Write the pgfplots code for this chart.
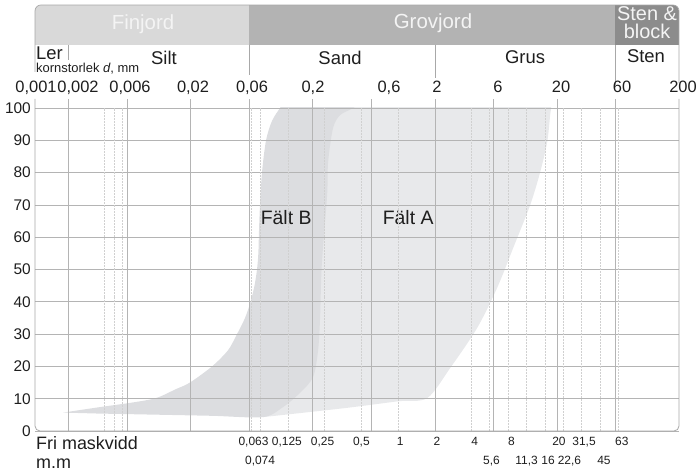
\documentclass[border=0pt]{standalone}
\usepackage{fontspec}
\setmainfont{Liberation Sans}
\usepackage{pgfplots}
\pgfplotsset{compat=1.18}

\definecolor{finc}{HTML}{D9D9D9}
\definecolor{grovc}{HTML}{B3B3B3}
\definecolor{stenc}{HTML}{8C8C8C}
\definecolor{gridc}{HTML}{B4B4B4}
\definecolor{minorc}{HTML}{D0D0D0}
\definecolor{framec}{HTML}{A8A8A8}
\definecolor{faltA}{HTML}{E8E9EB}
\definecolor{faltB}{HTML}{DCDDE0}
\definecolor{txt}{HTML}{1E1E1E}
\definecolor{headtxt}{HTML}{F4F4F4}

\newcommand{\fs}[1]{\fontsize{#1}{#1}\selectfont}

\begin{document}
\begin{tikzpicture}

% picture area in reference pixels
\begin{scope}[x=1bp,y=-1bp,shift={(-35bp,431bp)}]
  \path[use as bounding box] (0,0) rectangle (698,472);
\end{scope}

\begin{axis}[
    at={(0,0)}, anchor=south west,
    scale only axis, width=644bp, height=323bp,
    xmode=log, log basis x=10,
    xmin=0.00106, xmax=200, ymin=0, ymax=100,
    axis line style={draw=none},
    tick style={draw=none},
    xtick={0.002,0.006,0.02,0.06,0.2,0.6,2,6,20,60},
    xticklabels={},
    ytick={0,10,...,100},
    yticklabels={0,10,20,30,40,50,60,70,80,90,100},
    yticklabel style={font=\fs{15.5}, text=txt, inner sep=0pt, xshift=-4bp},
    xmajorgrids, ymajorgrids,
    major grid style={gridc, line width=0.7pt},
    extra x ticks={0.0039,0.0047,0.0055,0.063,0.074,0.125,0.25,0.5,1,4,5.6,8,11.3,16,22.6,31.5,45,63},
    extra x tick labels={},
    extra x tick style={grid=major, major grid style={minorc, line width=0.5pt, dash pattern=on 2pt off 1pt}},
    axis on top,
    clip mode=individual,
  ]

  % Fält A
  \addplot[draw=none, fill=faltA, smooth, tension=0.5] coordinates {
    (0.0782,4.3) (0.368,7.1) (1.0,9.2) (1.73,10.2)
    (2.67,19.5) (4.44,31.9) (6.47,44.3) (8.77,56.7) (12.08,70)
    (14.59,80.2) (16.65,89.5) (17.6,97.8) (18.0,101) (17.5,104)
    (1,104) (0.3,104) (0.2,80) (0.15,50) (0.12,20) (0.09,8)
  } -- cycle;

  % Fält B
  \addplot[draw=none, fill=faltB, smooth, tension=0.5] coordinates {
    (0.0018,5.7) (0.0036,7.4) (0.0066,8.8) (0.0104,10.2) (0.0150,12.9)
    (0.0197,15) (0.0299,20) (0.0404,25) (0.0479,30) (0.0557,35)
    (0.0618,40) (0.0666,45) (0.0698,50) (0.0716,55) (0.0725,62)
    (0.0739,70) (0.0767,80) (0.0828,90) (0.0927,96) (0.108,100)
    (0.125,102.5) (0.5,102.5) (0.428,100) (0.335,97.8) (0.293,93.8)
    (0.267,83.3) (0.262,73) (0.237,51.5) (0.2296,35.3) (0.221,25)
    (0.201,16.7) (0.157,11.8) (0.114,7.4) (0.0782,4.3) (0.03,4.7)
    (0.009,5.1) (0.0035,5.4)
  } -- cycle;

  \node[anchor=base west, font=\fs{19.5}, text=txt] at (axis cs:0.0702,64) {Fält B};
  \node[anchor=base west, font=\fs{19.5}, text=txt] at (axis cs:0.701,64) {Fält A};

  % major lines reach above the top
  \pgfplotsinvokeforeach{0.002,0.006,0.02,0.06,0.2,0.6,2,6,20,60}{
    \draw[gridc, line width=0.7pt] (axis cs:#1,100) -- ++(0pt,9bp);
  }

  % sieve sizes, fri maskvidd
  \node[anchor=base, font=\fs{12}, text=txt, yshift=-14bp, xshift=2bp] at (axis cs:0.063,0) {0,063};
  \node[anchor=base, font=\fs{12}, text=txt, yshift=-14bp, xshift=-1bp] at (axis cs:0.125,0) {0,125};
  \node[anchor=base, font=\fs{12}, text=txt, yshift=-14bp, xshift=-2bp] at (axis cs:0.25,0) {0,25};
  \node[anchor=base, font=\fs{12}, text=txt, yshift=-14bp] at (axis cs:0.5,0) {0,5};
  \node[anchor=base, font=\fs{12}, text=txt, yshift=-14bp, xshift=2bp] at (axis cs:1,0) {1};
  \node[anchor=base, font=\fs{12}, text=txt, yshift=-14bp, xshift=2bp] at (axis cs:2,0) {2};
  \node[anchor=base, font=\fs{12}, text=txt, yshift=-14bp, xshift=3bp] at (axis cs:4,0) {4};
  \node[anchor=base, font=\fs{12}, text=txt, yshift=-14bp, xshift=3bp] at (axis cs:8,0) {8};
  \node[anchor=base, font=\fs{12}, text=txt, yshift=-14bp, xshift=2bp] at (axis cs:20,0) {20};
  \node[anchor=base, font=\fs{12}, text=txt, yshift=-14bp, xshift=3bp] at (axis cs:31.5,0) {31,5};
  \node[anchor=base, font=\fs{12}, text=txt, yshift=-14bp, xshift=4bp] at (axis cs:63,0) {63};
  \node[anchor=base, font=\fs{12}, text=txt, yshift=-33bp] at (axis cs:0.074,0) {0,074};
  \node[anchor=base, font=\fs{12}, text=txt, yshift=-33bp, xshift=2bp] at (axis cs:5.6,0) {5,6};
  \node[anchor=base, font=\fs{12}, text=txt, yshift=-33bp] at (axis cs:11.3,0) {11,3};
  \node[anchor=base, font=\fs{12}, text=txt, yshift=-33bp, xshift=3bp] at (axis cs:16,0) {16};
  \node[anchor=base, font=\fs{12}, text=txt, yshift=-33bp, xshift=6bp] at (axis cs:22.6,0) {22,6};
  \node[anchor=base, font=\fs{12}, text=txt, yshift=-33bp, xshift=4bp] at (axis cs:45,0) {45};
\end{axis}

\begin{scope}[x=1bp,y=-1bp,shift={(-35bp,431bp)}]
  % header bands
  \begin{scope}
    \clip[rounded corners=6bp] (35,5) rectangle (679,60);
    \fill[finc] (35,5) rectangle (249,45);
    \fill[grovc] (249,5) rectangle (615.2,45);
    \fill[stenc] (615.2,5) rectangle (679,45);
  \end{scope}
  \draw[framec, line width=0.7pt, rounded corners=6bp] (35,72) -- (35,5) -- (679,5) -- (679,83);
  \draw[framec, line width=0.7pt] (68.7,45) -- (68.7,60) (249,45) -- (249,75)
    (434.9,45) -- (434.9,78) (615.2,45) -- (615.2,85);
  % plot frame
  \draw[framec, line width=0.8pt, rounded corners=5bp] (35,99) -- (35,431) -- (679,431) -- (679,99);

  \node[anchor=base, font=\fs{20.5}, text=headtxt] at (143,30) {Finjord};
  \node[anchor=base, font=\fs{20.5}, text=headtxt] at (433,29) {Grovjord};
  \node[anchor=base, font=\fs{20}, text=headtxt] at (647,21) {Sten \&};
  \node[anchor=base, font=\fs{20}, text=headtxt] at (647,39) {block};

  \node[anchor=base west, font=\fs{18.5}, text=txt, inner sep=0pt] at (36,60) {Ler};
  \node[anchor=base west, font=\fs{13}, text=txt, inner sep=0pt] at (36,73) {kornstorlek \textit{d}, mm};
  \node[anchor=base, font=\fs{18.5}, text=txt] at (164,65) {Silt};
  \node[anchor=base, font=\fs{18.5}, text=txt] at (340,65) {Sand};
  \node[anchor=base, font=\fs{18.5}, text=txt] at (525,64) {Grus};
  \node[anchor=base, font=\fs{18.5}, text=txt] at (646,63) {Sten};

  % kornstorlek scale
  \node[anchor=base, font=\fs{16.5}, text=txt, inner sep=0pt] at (36,92.7) {0,001};
  \node[anchor=base, font=\fs{16.5}, text=txt, inner sep=0pt] at (78,92.7) {0,002};
  \node[anchor=base, font=\fs{16.5}, text=txt, inner sep=0pt] at (130,92.7) {0,006};
  \node[anchor=base, font=\fs{16.5}, text=txt, inner sep=0pt] at (193,92.7) {0,02};
  \node[anchor=base, font=\fs{16.5}, text=txt, inner sep=0pt] at (252,92.7) {0,06};
  \node[anchor=base, font=\fs{16.5}, text=txt, inner sep=0pt] at (313,92.7) {0,2};
  \node[anchor=base, font=\fs{16.5}, text=txt, inner sep=0pt] at (389,92.7) {0,6};
  \node[anchor=base, font=\fs{16.5}, text=txt, inner sep=0pt] at (437,92.7) {2};
  \node[anchor=base, font=\fs{16.5}, text=txt, inner sep=0pt] at (498,92.7) {6};
  \node[anchor=base, font=\fs{16.5}, text=txt, inner sep=0pt] at (561,92.7) {20};
  \node[anchor=base, font=\fs{16.5}, text=txt, inner sep=0pt] at (622,92.7) {60};
  \node[anchor=base, font=\fs{16.5}, text=txt, inner sep=0pt] at (683,92.7) {200};

  \node[anchor=base west, font=\fs{18}, text=txt, inner sep=0pt] at (36,450) {Fri maskvidd};
  \node[anchor=base west, font=\fs{18}, text=txt, inner sep=0pt] at (36,469) {m.m};
\end{scope}

\end{tikzpicture}
\end{document}
